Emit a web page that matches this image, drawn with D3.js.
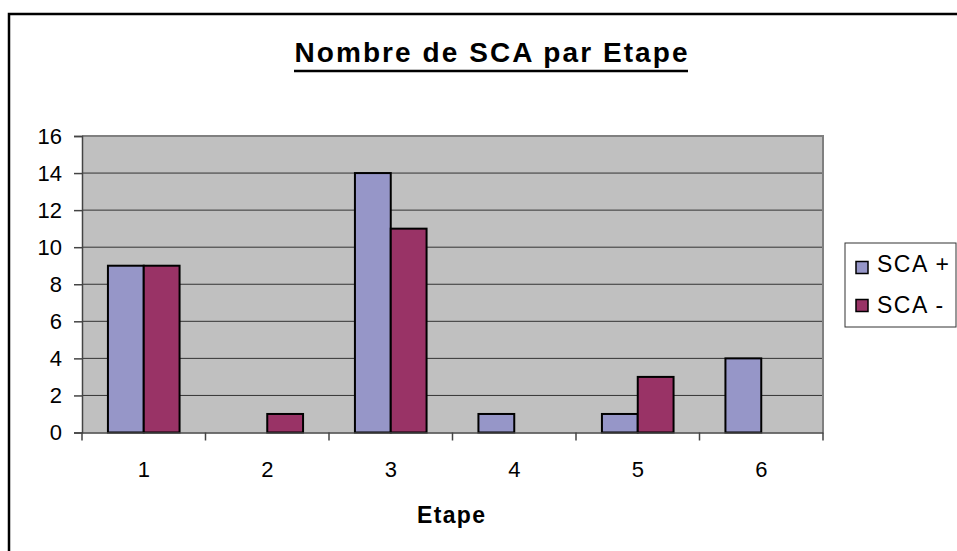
<!DOCTYPE html>
<html><head><meta charset="utf-8">
<script src="https://cdn.jsdelivr.net/npm/d3@7"></script>
<style>body{margin:0;background:#fff;}svg{display:block;font-family:Arial,"Liberation Sans",sans-serif;}
.tk text{font-size:22px;font-family:Arial,"Liberation Sans",sans-serif;fill:#000;}</style>
</head><body>
<script>
const categories = ["1","2","3","4","5","6"];
const seriesNames = ["SCA +","SCA -"];
const scaPlus = [9,0,14,1,1,4];
const scaMinus = [9,1,11,0,3,0];
const yTicks = [0,2,4,6,8,10,12,14,16];
const colors = ["#9696C8","#993366"];
const title = "Nombre de SCA par Etape";
const xTitle = "Etape";

const W=957,H=551;
const svg=d3.select("body").append("svg").attr("width",W).attr("height",H);
// outer frame
svg.append("path").attr("d","M9,"+(H+5)+"V14H"+(W+5)).attr("fill","none").attr("stroke","#000").attr("stroke-width",2.5);

const L=82,R=823,T=136,B=432.5;
const x=d3.scaleBand().domain(categories).range([L,R]).paddingInner(0.42).paddingOuter(0.21);
const x1=d3.scaleBand().domain([0,1]).range([0,x.bandwidth()]);
const y=d3.scaleLinear().domain([0,16]).range([B,T]);

svg.append("rect").attr("x",L).attr("y",T).attr("width",R-L).attr("height",B-T).attr("fill","#C0C0C0");
// gridlines
svg.append("g").selectAll("line").data(yTicks.filter(d=>d>0)).join("line")
 .attr("x1",L).attr("x2",R).attr("y1",d=>y(d)).attr("y2",d=>y(d)).attr("stroke","#333").attr("stroke-width",1);
// plot border top/right
svg.append("path").attr("d",`M${L},${T}H${R}V${B}`).attr("fill","none").attr("stroke","#808080").attr("stroke-width",2);

const data=categories.map((c,i)=>({c,v:[scaPlus[i],scaMinus[i]]}));
const g=svg.append("g");
data.forEach(d=>{
  d.v.forEach((v,j)=>{
    if(v<=0) return;
    g.append("rect").attr("x",x(d.c)+x1(j)).attr("y",y(v)).attr("width",x1.bandwidth()).attr("height",y(0)-y(v))
     .attr("fill",colors[j]).attr("stroke","#000").attr("stroke-width",2);
  });
});

// y axis
const ya=svg.append("g").attr("class","tk").attr("transform",`translate(${L},0)`)
 .call(d3.axisLeft(y).tickValues(yTicks).tickSize(8).tickPadding(12).tickFormat(d3.format("d")));
ya.attr("font-size",null).attr("font-family",null);
ya.select(".domain").attr("stroke","#444").attr("stroke-width",1.5);
ya.selectAll(".tick line").attr("stroke","#444").attr("stroke-width",1.5);

// x axis
const xa=svg.append("g").attr("class","tk").attr("transform",`translate(0,${B})`).call(d3.axisBottom(x).tickSize(0).tickPadding(29));
xa.attr("font-size",null).attr("font-family",null);
xa.select(".domain").attr("stroke","#444").attr("stroke-width",1.5);
// band boundary ticks
const step=x.step();
const bounds=categories.map((c,i)=>x(c)-x.paddingInner()*step/2).concat([R]);
bounds[0]=L;
svg.append("g").selectAll("line").data(bounds).join("line")
 .attr("x1",d=>d).attr("x2",d=>d).attr("y1",B).attr("y2",B+8).attr("stroke","#444").attr("stroke-width",1.5);

// title
svg.append("text").attr("x",491).attr("y",62).attr("text-anchor","middle")
 .attr("font-size",28).attr("font-weight","bold").attr("textLength",393).attr("lengthAdjust","spacing").text(title);
svg.append("line").attr("x1",294).attr("x2",688).attr("y1",71).attr("y2",71).attr("stroke","#000").attr("stroke-width",2.5);

svg.append("text").attr("x",417).attr("y",523).attr("font-size",23).attr("font-weight","bold")
 .attr("textLength",68).attr("lengthAdjust","spacing").text(xTitle);

// legend
const lg=svg.append("g");
lg.append("rect").attr("x",845).attr("y",243).attr("width",111).attr("height",84).attr("fill","#fff").attr("stroke","#333").attr("stroke-width",1);
seriesNames.forEach((n,i)=>{
  const cy=[267.5,305.5][i];
  lg.append("rect").attr("x",856).attr("y",cy-6).attr("width",12).attr("height",12).attr("fill",colors[i]).attr("stroke","#000").attr("stroke-width",1.5);
  lg.append("text").attr("x",877).attr("y",[272,313][i]).attr("font-size",23).attr("letter-spacing",1.5).text(n);
});
</script>
</body></html>
